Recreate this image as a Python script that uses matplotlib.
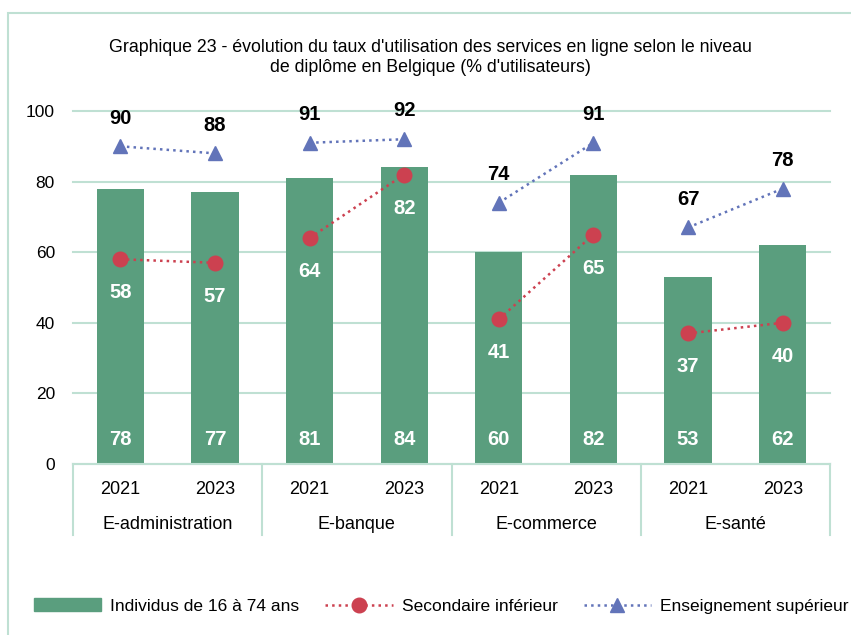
import numpy as np
import matplotlib.pyplot as plt
from matplotlib.patches import Rectangle
from matplotlib.lines import Line2D
from matplotlib.patches import Patch

plt.rcParams['font.family'] = ['Liberation Sans', 'DejaVu Sans']

categories = ['E-administration', 'E-banque', 'E-commerce', 'E-santé']
years = ['2021', '2023']
individus = [78, 77, 81, 84, 60, 82, 53, 62]
secondaire = [58, 57, 64, 82, 41, 65, 37, 40]
superieur = [90, 88, 91, 92, 74, 91, 67, 78]

bar_col = '#5a9e7e'
red = '#cc4150'
blue = '#6274b9'
light = '#bfe0d3'

fig = plt.figure(figsize=(8.51, 6.35), dpi=100)
fig.patches.append(Rectangle((8 / 851, -0.05), 1.2, 1 - 13 / 635 + 0.05,
                             transform=fig.transFigure, fill=False,
                             edgecolor=light, linewidth=1.5))
ax = fig.add_axes([73 / 851, 1 - 464 / 635, (830 - 73) / 851, (464 - 111) / 635])

x = np.arange(len(individus))
ax.bar(x, individus, width=0.5, color=bar_col, zorder=2)

for g in range(len(categories)):
    s = slice(2 * g, 2 * g + 2)
    ax.plot(x[s], secondaire[s], color=red, linestyle=':', linewidth=1.8,
            marker='o', markersize=10.5, zorder=3)
    ax.plot(x[s], superieur[s], color=blue, linestyle=':', linewidth=1.8,
            marker='^', markersize=10.5, zorder=3)

for i in x:
    ax.text(i, 7, str(individus[i]), ha='center', va='center', color='white',
            fontsize=14.5, fontweight='bold', zorder=4)
    ax.text(i, secondaire[i] - 9.5, str(secondaire[i]), ha='center', va='center',
            color='white', fontsize=14.5, fontweight='bold', zorder=4)
    ax.text(i, superieur[i] + 8, str(superieur[i]), ha='center', va='center',
            color='black', fontsize=14.5, fontweight='bold', zorder=4)

ax.set_xlim(-0.5, 7.5)
ax.set_ylim(0, 100)
ax.set_yticks(range(0, 101, 20))
ax.yaxis.grid(True, color=light, linewidth=1.5, zorder=0, clip_on=False)
ax.set_axisbelow(True)
ax.tick_params(axis='y', length=0, labelsize=12.5, pad=13)
ax.set_xticks([])
for sp in ['top', 'right', 'left']:
    ax.spines[sp].set_visible(False)
ax.spines['bottom'].set_color(light)
ax.spines['bottom'].set_linewidth(1.5)

# multi-level x axis
tr = ax.get_xaxis_transform()
for sx in [-0.5, 1.5, 3.5, 5.5, 7.5]:
    ax.plot([sx, sx], [0, -0.20], color=light, linewidth=1.5,
            transform=tr, clip_on=False)
for i in x:
    ax.text(i, -0.071, years[i % 2], ha='center', va='center', fontsize=13,
            transform=tr)
for g, c in enumerate(categories):
    ax.text(2 * g + 0.5, -0.170, c, ha='center', va='center', fontsize=13,
            transform=tr)

fig.text(0.506, 1 - 47 / 635,
         "Graphique 23 - évolution du taux d'utilisation des services en ligne selon le niveau",
         ha='center', va='center', fontsize=12.8)
fig.text(0.506, 1 - 68 / 635, "de diplôme en Belgique (% d'utilisateurs)",
         ha='center', va='center', fontsize=12.8)

handles = [
    Patch(color=bar_col),
    Line2D([], [], color=red, linestyle=':', linewidth=1.8, marker='o', markersize=10.5),
    Line2D([], [], color=blue, linestyle=':', linewidth=1.8, marker='^', markersize=10.5),
]
labels = ['Individus de 16 à 74 ans', 'Secondaire inférieur', 'Enseignement supérieur']
fig.legend(handles, labels, loc='center left', bbox_to_anchor=(37 / 851 - 0.012, 1 - 606 / 635),
           ncol=3, frameon=False, fontsize=12.5, handlelength=3.9,
           handletextpad=0.5, columnspacing=1.5, borderaxespad=0)

fig.savefig('out.png', dpi=100)
